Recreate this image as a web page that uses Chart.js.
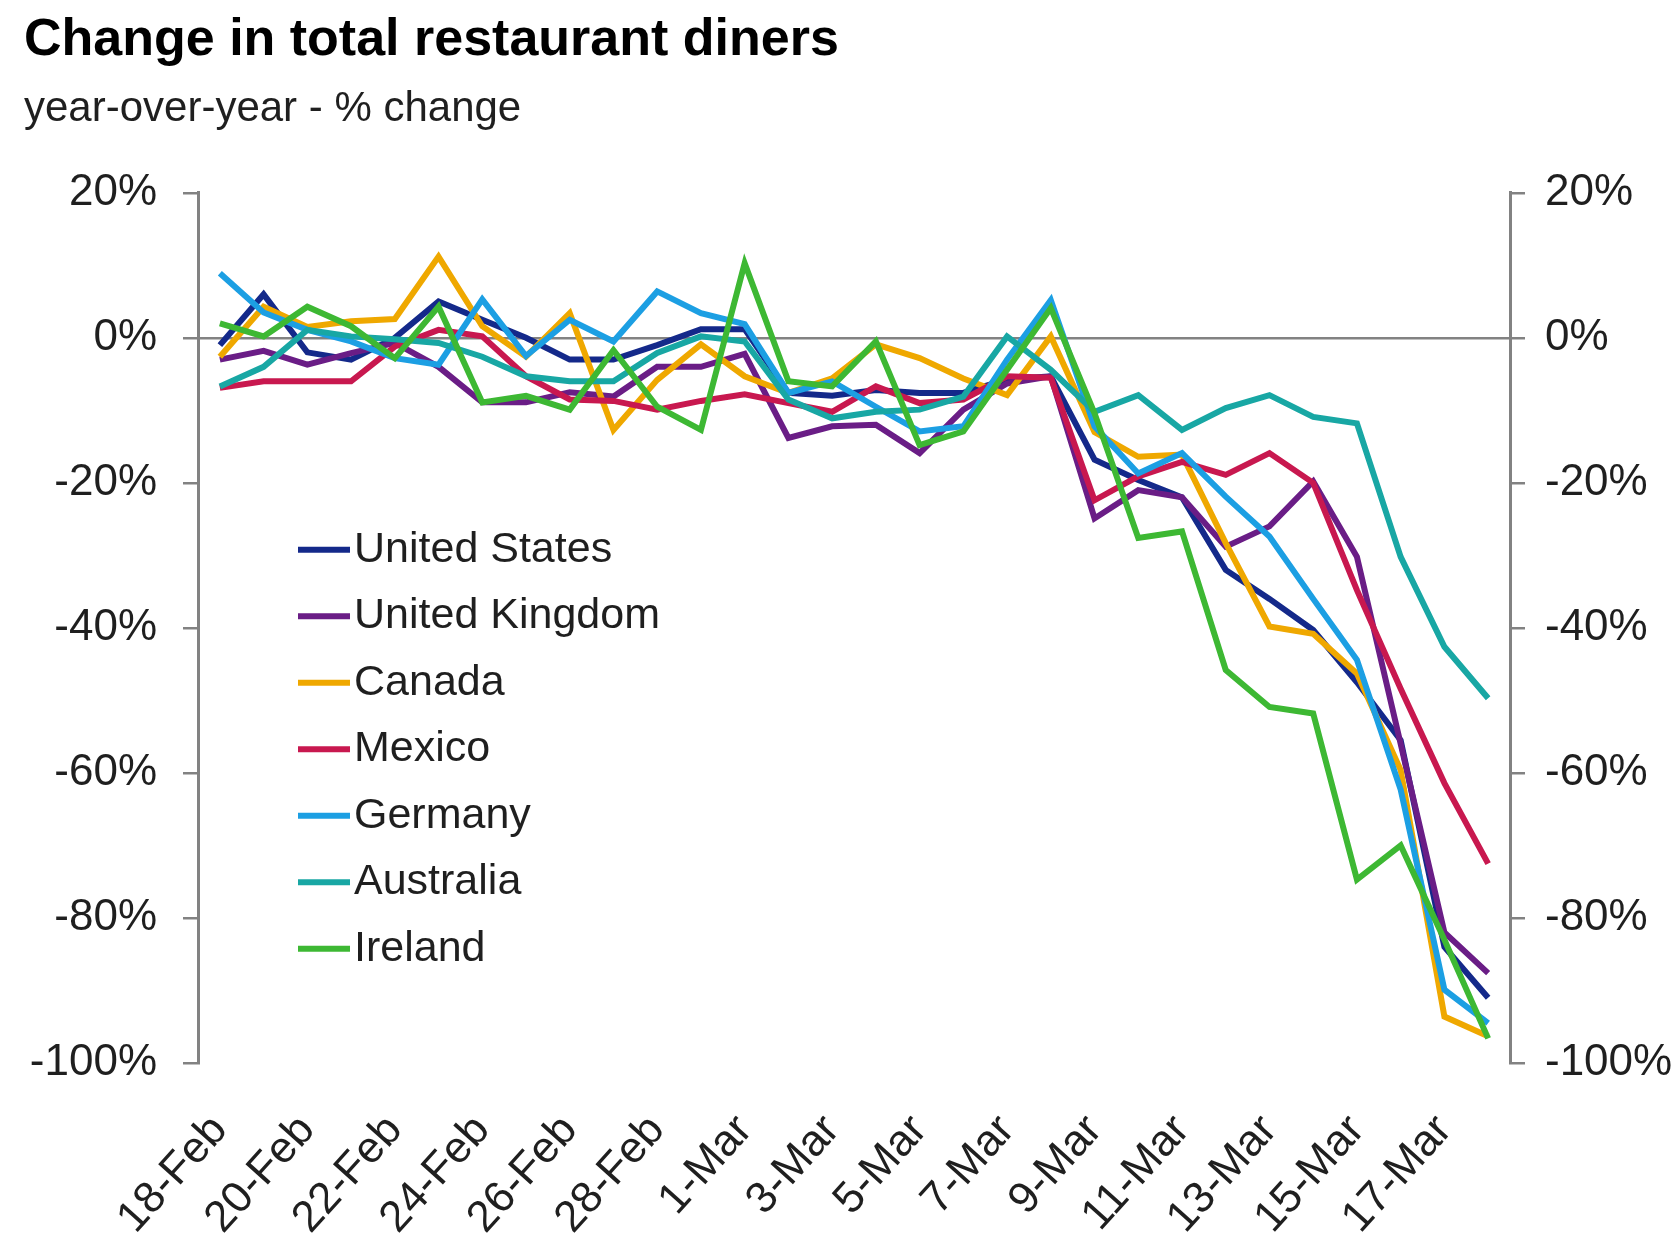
<!DOCTYPE html>
<html>
<head>
<meta charset="utf-8">
<title>Change in total restaurant diners</title>
<script src="https://cdn.jsdelivr.net/npm/chart.js@4.4.1/dist/chart.umd.min.js"></script>
<style>
  html, body { margin: 0; padding: 0; background: #fff; }
  #grafica { display: block; }
</style>
</head>
<body>
<canvas id="grafica" width="1675" height="1243"></canvas>
<script>
// fechas (2020, incluye 29-Feb)
const fechas = ['18-Feb','19-Feb','20-Feb','21-Feb','22-Feb','23-Feb','24-Feb','25-Feb','26-Feb','27-Feb',
  '28-Feb','29-Feb','1-Mar','2-Mar','3-Mar','4-Mar','5-Mar','6-Mar','7-Mar','8-Mar',
  '9-Mar','10-Mar','11-Mar','12-Mar','13-Mar','14-Mar','15-Mar','16-Mar','17-Mar','18-Mar'];

const paises = ['United States','United Kingdom','Canada','Mexico','Germany','Australia','Ireland'];

const unitedStates  = [-1, 6, -2, -3, 0, 5, 2.5, 0, -3, -3, -1, 1.2, 1.2, -7.6, -8, -7.2, -7.6, -7.6, -5.7, -5.3, -16.8, -19.6, -22, -32, -36, -40.3, -47.5, -55.5, -84, -91];
const unitedKingdom = [-3, -1.8, -3.7, -2.1, -0.7, -4, -8.9, -8.9, -7.5, -8.1, -4, -4, -2.2, -13.8, -12.2, -12, -15.9, -9.9, -6.3, -5.3, -24.9, -21, -22, -28.8, -26, -19.8, -30.2, -56, -82, -87.6];
const canada        = [-2.6, 4.3, 1.5, 2.3, 2.6, 11.2, 1.6, -2.6, 3.4, -12.7, -5.8, -0.9, -5.3, -7.6, -5.6, -0.9, -2.8, -5.6, -7.9, 0.2, -13, -16.4, -16.1, -28.3, -39.8, -40.8, -46.3, -59.6, -93.6, -96.3];
const mexico        = [-6.9, -6, -6, -6, -1.2, 1.1, 0.2, -5.3, -8.5, -8.7, -9.9, -8.7, -7.8, -9, -10.2, -6.7, -9, -8.5, -5.3, -5.5, -22.4, -19.1, -17.1, -18.9, -15.9, -20, -34.8, -48.4, -61.4, -72.5];
const germany       = [8.9, 3.5, 1.1, -0.5, -2.8, -3.7, 5.3, -2.5, 2.5, -0.5, 6.4, 3.4, 1.9, -7.6, -6, -9.5, -12.9, -12.2, -3, 5.2, -12.2, -18.7, -15.9, -21.9, -27.4, -36, -44.4, -62.3, -89.9, -94.5];
const australia     = [-6.7, -4, 1.1, 0.2, -0.2, -0.7, -2.6, -5.3, -6, -6, -2.1, 0.2, -0.5, -8.5, -11.1, -10.2, -9.9, -8.1, 0.2, -4.4, -10.2, -7.9, -12.7, -9.7, -7.9, -10.9, -11.8, -30.2, -42.6, -49.7];
const ireland       = [2, 0.2, 4.3, 1.6, -2.8, 4.3, -8.9, -8, -9.9, -1.7, -9.5, -12.7, 10.3, -6, -6.7, -0.5, -14.8, -12.9, -4.4, 4.1, -10.4, -27.6, -26.7, -45.8, -50.9, -51.8, -74.7, -70, -83, -96.6];

const ticksY = [-100, -80, -60, -40, -20, 0, 20];

const valores = [unitedStates, unitedKingdom, canada, mexico, germany, australia, ireland];
const colores = ['#14298a', '#6a1d86', '#efa800', '#c8184f', '#1c9fe3', '#18a7a4', '#3db833'];

const fuente = '"Liberation Sans", Arial, sans-serif';
const gris = '#828282';
const texto = '#1f1f1f';

// leyenda dentro del area del grafico
const leyendaInterna = {
  id: 'leyendaInterna',
  afterDraw(chart) {
    const ctx = chart.ctx;
    const area = chart.chartArea;
    const x0 = area.left + 100;
    const y0 = area.top + 357;
    ctx.save();
    ctx.font = '43px ' + fuente;
    ctx.textBaseline = 'middle';
    ctx.textAlign = 'left';
    chart.data.datasets.forEach((ds, i) => {
      let y = y0 + i * 66.5;
      ctx.strokeStyle = ds.borderColor;
      ctx.lineWidth = 6;
      ctx.beginPath();
      ctx.moveTo(x0, y);
      ctx.lineTo(x0 + 52, y);
      ctx.stroke();
      ctx.fillStyle = texto;
      ctx.fillText(ds.label, x0 + 56, y);
    });
    ctx.restore();
  }
};

let datasets = paises.map((p, i) => ({
  label: p,
  data: valores[i],
  borderColor: colores[i],
  backgroundColor: colores[i],
  borderWidth: 6,
  pointRadius: 0,
  tension: 0,
  fill: false,
  order: paises.length - 1 - i
}));

let ejeY = (posicion, ancho, padding) => ({
  position: posicion,
  min: ticksY[0],
  max: ticksY[ticksY.length - 1],
  afterFit(scale) { scale.width = ancho; },
  afterBuildTicks(scale) { scale.ticks = ticksY.map(v => ({ value: v })); },
  ticks: {
    padding: padding,
    color: texto,
    font: { size: 44, family: fuente },
    callback: v => v + '%'
  },
  grid: {
    drawOnChartArea: posicion === 'left',
    color: ctx => (ctx.tick && ctx.tick.value === 0) ? gris : 'rgba(0,0,0,0)',
    tickColor: gris,
    tickLength: 15,
    lineWidth: 2.5,
    tickWidth: 2.5
  },
  border: { color: gris, width: 3 }
});

let chart = new Chart(document.getElementById('grafica').getContext('2d'), {
  type: 'line',
  data: { labels: fechas, datasets: datasets },
  options: {
    responsive: false,
    animation: false,
    events: [],
    layout: { padding: { left: 24, right: 0, top: 0, bottom: 0 } },
    plugins: {
      legend: { display: false },
      tooltip: { enabled: false },
      title: {
        display: true,
        text: 'Change in total restaurant diners',
        align: 'start',
        color: '#000',
        font: { size: 52, weight: 'bold', family: fuente },
        padding: { top: 9, bottom: 0 }
      },
      subtitle: {
        display: true,
        text: 'year-over-year - % change',
        align: 'start',
        color: texto,
        font: { size: 42, family: fuente },
        padding: { top: 13, bottom: 58 }
      }
    },
    scales: {
      x: {
        offset: true,
        afterFit(scale) { scale.height = 180; },
        grid: { display: false, drawTicks: false },
        border: { display: false },
        ticks: {
          autoSkip: false,
          minRotation: 48,
          maxRotation: 48,
          padding: 42,
          color: texto,
          font: { size: 44, family: fuente },
          callback(value, index) { return index % 2 === 0 ? this.getLabelForValue(value) : ''; }
        }
      },
      y: ejeY('left', 174, 26),
      y2: ejeY('right', 165, 20)
    }
  },
  plugins: [leyendaInterna]
});
</script>
</body>
</html>
